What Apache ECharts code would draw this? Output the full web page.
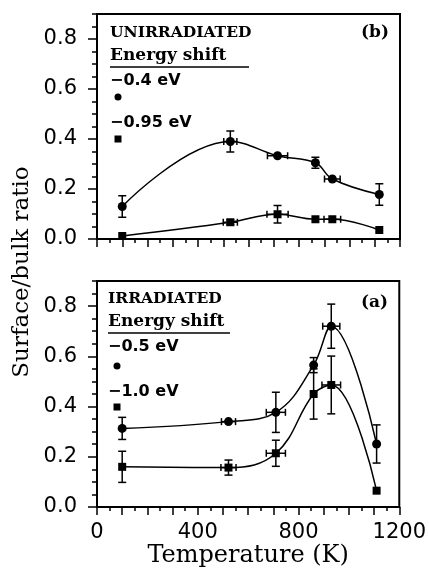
<!DOCTYPE html>
<html><head><meta charset="utf-8">
<script src="https://cdn.jsdelivr.net/npm/echarts@6/dist/echarts.min.js"></script>
<style>html,body{margin:0;padding:0;background:#fff}#c{width:429px;height:577px}</style>
</head><body><div id="c"></div>
<script>
// ---- data ----
const xTickLabels = [0, 400, 800, 1200];
const yTickLabels = [0, 0.2, 0.4, 0.6, 0.8];

// (b) unirradiated
const tempUnirr = [100, 528, 715, 865, 932, 1118];
const unirrCircle = [0.13, 0.39, 0.333, 0.305, 0.24, 0.178];      // -0.4 eV
const unirrCircleYErr = [0.043, 0.042, 0, 0.022, 0, 0.043];
const unirrCircleXErr = [0, 26, 40, 0, 31, 0];
const unirrSquare = [0.012, 0.067, 0.099, 0.079, 0.079, 0.036];   // -0.95 eV
const unirrSquareYErr = [0, 0.01, 0.035, 0, 0, 0];
const unirrSquareXErr = [0, 28, 42, 0, 33, 0];

// (a) irradiated
const tempIrr = [100, 522, 710, 860, 930, 1110];
const irrCircle = [0.313, 0.34, 0.377, 0.565, 0.72, 0.251];       // -0.5 eV
const irrCircleYErr = [0.044, 0, 0.08, 0.03, 0.088, 0.076];
const irrCircleXErr = [0, 28, 38, 0, 34, 0];
const irrSquare = [0.16, 0.157, 0.214, 0.45, 0.486, 0.065];       // -1.0 eV
const irrSquareYErr = [0.062, 0.03, 0.052, 0.1, 0.115, 0];
const irrSquareXErr = [0, 30, 38, 0, 37, 0];

// ---- chart ----
const BLACK = '#000';
const chart = echarts.init(document.getElementById('c'));

function pts(xs, ys) { return xs.map((x, i) => [x, ys[i]]); }
function errData(xs, ys, ye, xe) { return xs.map((x, i) => [x, ys[i], ye[i], xe[i]]); }

function errRender(params, api) {
  const x = api.value(0), y = api.value(1), ye = api.value(2), xe = api.value(3);
  const st = { stroke: BLACK, lineWidth: 1.5, fill: null };
  const ch = [];
  if (ye > 0) {
    const t = api.coord([x, y + ye]), b = api.coord([x, y - ye]);
    ch.push({ type: 'line', shape: { x1: t[0], y1: t[1], x2: b[0], y2: b[1] }, style: st });
    ch.push({ type: 'line', shape: { x1: t[0] - 4, y1: t[1], x2: t[0] + 4, y2: t[1] }, style: st });
    ch.push({ type: 'line', shape: { x1: b[0] - 4, y1: b[1], x2: b[0] + 4, y2: b[1] }, style: st });
  }
  if (xe > 0) {
    const l = api.coord([x - xe, y]), r = api.coord([x + xe, y]);
    ch.push({ type: 'line', shape: { x1: l[0], y1: l[1], x2: r[0], y2: r[1] }, style: st });
    ch.push({ type: 'line', shape: { x1: l[0], y1: l[1] - 3.5, x2: l[0], y2: l[1] + 3.5 }, style: st });
    ch.push({ type: 'line', shape: { x1: r[0], y1: r[1] - 3.5, x2: r[0], y2: r[1] + 3.5 }, style: st });
  }
  return { type: 'group', children: ch };
}

function xAxisDef(gi, labels) {
  return {
    type: 'value', gridIndex: gi, min: 0, max: 1200, interval: 100,
    axisLine: { show: true, onZero: false, lineStyle: { color: BLACK, width: 2 } },
    axisTick: { show: true, length: 8, lineStyle: { color: BLACK, width: 1.5 } },
    minorTick: { show: true, splitNumber: 2, length: 4, lineStyle: { color: BLACK, width: 1.5 } },
    splitLine: { show: false }, minorSplitLine: { show: false },
    axisLabel: labels ? {
      show: true, customValues: xTickLabels, formatter: v => String(v),
      fontFamily: 'DejaVu Sans', fontSize: 21, color: BLACK, margin: 15
    } : { show: false },
    name: labels ? 'Temperature (K)' : '',
    nameLocation: 'middle', nameGap: 36,
    nameTextStyle: { fontFamily: 'DejaVu Serif', fontSize: 24, color: BLACK }
  };
}
function yMajor(gi) {
  return {
    type: 'value', gridIndex: gi, min: 0, max: 0.9, interval: 0.2, position: 'left',
    axisLine: { show: true, onZero: false, lineStyle: { color: BLACK, width: 2 } },
    axisTick: { show: true, length: 9, customValues: yTickLabels, lineStyle: { color: BLACK, width: 1.5 } },
    splitLine: { show: false },
    axisLabel: { show: true, customValues: yTickLabels, formatter: v => v.toFixed(1),
      fontFamily: 'DejaVu Sans', fontSize: 21, color: BLACK, margin: 20 }
  };
}
function yMinor(gi) {
  return {
    type: 'value', gridIndex: gi, min: 0, max: 0.9, interval: 0.05, position: 'left',
    axisLine: { show: false },
    axisTick: { show: true, length: 5, lineStyle: { color: BLACK, width: 1.5 } },
    splitLine: { show: false },
    axisLabel: { show: false }
  };
}

function lineSeries(xi, yi, xs, ys, sym, size) {
  return {
    type: 'line', xAxisIndex: xi, yAxisIndex: yi, data: pts(xs, ys),
    smooth: 0.4, symbol: sym, symbolSize: size, showSymbol: true,
    lineStyle: { color: BLACK, width: 1.5 }, itemStyle: { color: BLACK },
    z: 5, animation: false
  };
}
function errSeries(xi, yi, xs, ys, ye, xe) {
  return {
    type: 'custom', xAxisIndex: xi, yAxisIndex: yi, renderItem: errRender,
    data: errData(xs, ys, ye, xe), z: 4, animation: false, silent: true
  };
}

const capsB = 'bold 15.5px "DejaVu Serif"';
const serifB = 'bold 17px "DejaVu Serif"';
const sansB = 'bold 16px "DejaVu Sans"';
function txt(text, x, y, font, align) {
  return { type: 'text', x: x, y: y, z: 10, silent: true,
    style: { text: text, font: font, fill: BLACK, align: align || 'left', verticalAlign: 'middle' } };
}

chart.setOption({
  animation: false,
  backgroundColor: '#fff',
  grid: [
    { left: 97, width: 303, top: 14, height: 225, show: true, borderColor: BLACK, borderWidth: 2, backgroundColor: 'transparent' },
    { left: 97, width: 303, top: 281, height: 226, show: true, borderColor: BLACK, borderWidth: 2, backgroundColor: 'transparent' }
  ],
  xAxis: [xAxisDef(0, false), xAxisDef(1, true)],
  yAxis: [yMajor(0), yMinor(0), yMajor(1), yMinor(1)],
  series: [
    errSeries(0, 0, tempUnirr, unirrCircle, unirrCircleYErr, unirrCircleXErr),
    errSeries(0, 0, tempUnirr, unirrSquare, unirrSquareYErr, unirrSquareXErr),
    lineSeries(0, 0, tempUnirr, unirrCircle, 'circle', 9),
    lineSeries(0, 0, tempUnirr, unirrSquare, 'rect', 8),
    errSeries(1, 2, tempIrr, irrCircle, irrCircleYErr, irrCircleXErr),
    errSeries(1, 2, tempIrr, irrSquare, irrSquareYErr, irrSquareXErr),
    lineSeries(1, 2, tempIrr, irrCircle, 'circle', 9),
    lineSeries(1, 2, tempIrr, irrSquare, 'rect', 8)
  ],
  graphic: [
    { type: 'text', x: 22, y: 272, rotation: Math.PI / 2, silent: true,
      style: { text: 'Surface/bulk ratio', font: '23px "DejaVu Serif"', fill: BLACK, align: 'center', verticalAlign: 'middle' } },
    // panel (b)
    txt('UNIRRADIATED', 110, 33, capsB),
    txt('Energy shift', 110, 56, serifB),
    { type: 'line', silent: true, z: 10, shape: { x1: 110, y1: 67, x2: 249, y2: 67 }, style: { stroke: BLACK, lineWidth: 1.5 } },
    txt('\u22120.4 eV', 110, 81, sansB),
    { type: 'circle', silent: true, z: 10, shape: { cx: 118, cy: 97, r: 3.5 }, style: { fill: BLACK } },
    txt('\u22120.95 eV', 110, 123, sansB),
    { type: 'rect', silent: true, z: 10, shape: { x: 114.5, y: 135.5, width: 7, height: 7 }, style: { fill: BLACK } },
    txt('(b)', 389, 33, serifB, 'right'),
    // panel (a)
    txt('IRRADIATED', 108, 299, capsB),
    txt('Energy shift', 108, 321.5, serifB),
    { type: 'line', silent: true, z: 10, shape: { x1: 108, y1: 333, x2: 230, y2: 333 }, style: { stroke: BLACK, lineWidth: 1.5 } },
    txt('\u22120.5 eV', 108, 347, sansB),
    { type: 'circle', silent: true, z: 10, shape: { cx: 117, cy: 366, r: 3.5 }, style: { fill: BLACK } },
    txt('\u22121.0 eV', 108, 392, sansB),
    { type: 'rect', silent: true, z: 10, shape: { x: 113.5, y: 403.5, width: 7, height: 7 }, style: { fill: BLACK } },
    txt('(a)', 388, 303, serifB, 'right')
  ]
});
</script>
</body></html>
